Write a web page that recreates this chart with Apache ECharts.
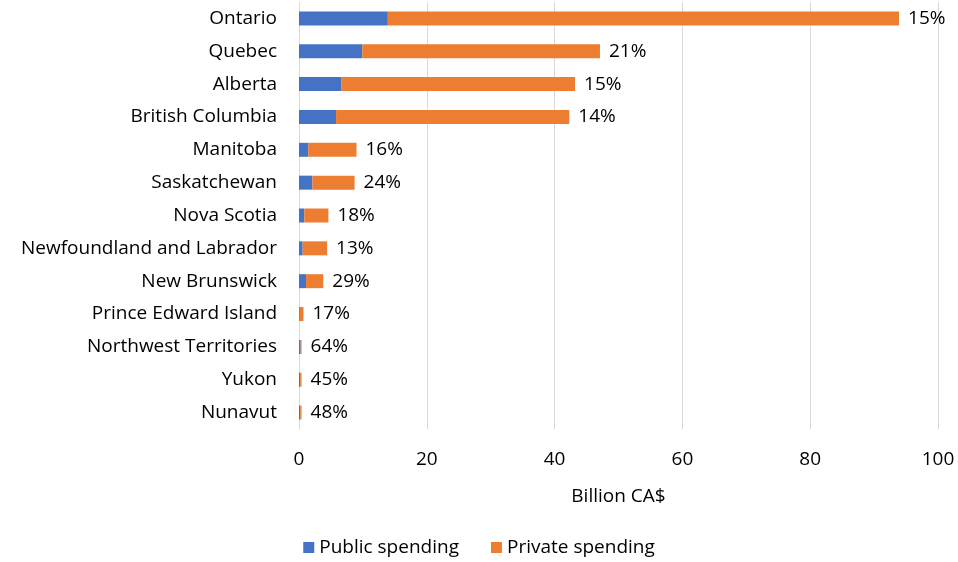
<!DOCTYPE html>
<html><head><meta charset="utf-8">
<script src="https://cdn.jsdelivr.net/npm/echarts@6/dist/echarts.min.js"></script>
<style>html,body{margin:0;padding:0;background:#fff}#c{width:958px;height:562px}</style>
</head><body><div id="c"></div>
<script>
const provinces = ["Ontario","Quebec","Alberta","British Columbia","Manitoba","Saskatchewan","Nova Scotia","Newfoundland and Labrador","New Brunswick","Prince Edward Island","Northwest Territories","Yukon","Nunavut"];
const publicSpending = [13.9, 9.9, 6.6, 5.8, 1.45, 2.1, 0.83, 0.57, 1.1, 0.12, 0.26, 0.18, 0.19];
const privateSpending = [80.0, 37.2, 36.6, 36.5, 7.55, 6.6, 3.77, 3.83, 2.7, 0.58, 0.14, 0.22, 0.21];
const publicShare = ["15%","21%","15%","14%","16%","24%","18%","13%","29%","17%","64%","45%","48%"];
const xTicks = [0, 20, 40, 60, 80, 100];

const font = "'Open Sans', sans-serif";
const fs = 19;
const chart = echarts.init(document.getElementById('c'));
chart.setOption({
  animation: false,
  textStyle: {fontFamily: font},
  grid: {left: 299, right: 20, top: 2, height: 427},
  xAxis: {
    type: 'value', min: xTicks[0], max: xTicks[xTicks.length-1], interval: 20,
    name: 'Billion CA$', nameLocation: 'middle', nameGap: 58,
    nameTextStyle: {fontSize: fs, color: '#000', fontFamily: font},
    axisLabel: {fontSize: fs, color: '#000', margin: 21, fontFamily: font},
    axisLine: {show: false}, axisTick: {show: false},
    splitLine: {lineStyle: {color: '#d9d9d9', width: 1}}
  },
  yAxis: {
    type: 'category', data: provinces, inverse: true,
    axisLabel: {fontSize: fs, color: '#000', margin: 22, fontFamily: font},
    axisLine: {show: true, lineStyle: {color: '#d9d9d9'}}, axisTick: {show: false}
  },
  legend: {
    bottom: 0, left: 'center', itemWidth: 11, itemHeight: 11, itemGap: 32,
    icon: 'rect',
    textStyle: {fontSize: fs, color: '#000', fontFamily: font},
    data: ['Public spending', 'Private spending']
  },
  series: [
    {name: 'Public spending', type: 'bar', stack: 't', data: publicSpending,
     barWidth: 14, itemStyle: {color: '#4472C4'}},
    {name: 'Private spending', type: 'bar', stack: 't', data: privateSpending,
     barWidth: 14, itemStyle: {color: '#ED7D31'},
     label: {show: true, position: 'right', distance: 9, fontSize: fs, color: '#000', fontFamily: font,
       formatter: p => publicShare[p.dataIndex]}}
  ]
});
</script></body></html>
